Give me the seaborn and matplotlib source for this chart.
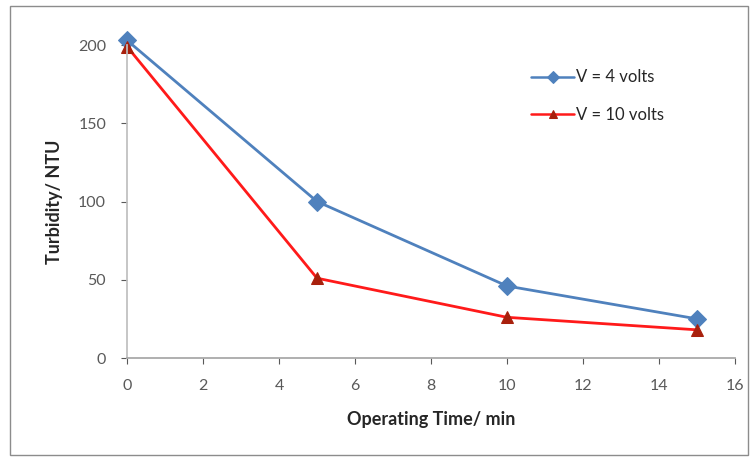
import matplotlib
matplotlib.use("Agg")
import matplotlib.pyplot as plt
import seaborn as sns
import pandas as pd
from matplotlib.patches import Rectangle

time_min = [0, 5, 10, 15]
turb_4v = [203, 100, 46, 25]
turb_10v = [199, 51, 26, 18]
labels = ["V = 4 volts", "V = 10 volts"]
xticks = [0, 2, 4, 6, 8, 10, 12, 14, 16]
yticks = [0, 50, 100, 150, 200]

sns.set_theme(style="white")
plt.rcParams['font.family'] = ['Lato', 'DejaVu Sans']

df = pd.DataFrame({
    "t": time_min * 2,
    "y": turb_4v + turb_10v,
    "s": [labels[0]] * 4 + [labels[1]] * 4,
})

fig = plt.figure(figsize=(7.55, 4.59), dpi=100)
ax = fig.add_axes([127/755, 1 - 358/459, (735 - 127)/755, (358 - 45)/459])

fig.patches.append(Rectangle((10/755, 1 - 455/459), 738/755, 449/459,
                             transform=fig.transFigure, fill=False,
                             edgecolor="#8c8c8c", linewidth=1.0))

sns.lineplot(data=df[df.s == labels[0]], x="t", y="y", ax=ax, color="#4F81BD",
             marker="D", markersize=9, markerfacecolor="#4F81BD",
             markeredgecolor="#4F81BD", linewidth=2, label=labels[0], clip_on=False)
sns.lineplot(data=df[df.s == labels[1]], x="t", y="y", ax=ax, color="#FF1A1A",
             marker="^", markersize=9, markerfacecolor="#A8200C",
             markeredgecolor="#A8200C", linewidth=2, label=labels[1], clip_on=False)

ax.set_xlim(0, 16)
ax.set_ylim(0, 200)
ax.set_xticks(xticks)
ax.set_yticks(yticks)
ax.tick_params(axis="both", labelsize=11.5, colors="#595959", length=4, width=0.8, direction="out")
ax.tick_params(axis="x", bottom=True, pad=11)
ax.tick_params(axis="y", left=True, pad=11)
for side in ["top", "right"]:
    ax.spines[side].set_visible(False)
ax.spines["left"].set_color("#bfbfbf")
ax.spines["bottom"].set_color("#a6a6a6")
ax.set_xlabel("Operating Time/ min", fontsize=13, fontweight="bold", color="#262626", labelpad=13)
ax.set_ylabel("Turbidity/ NTU", fontsize=13, fontweight="bold", color="#262626", labelpad=11)

leg = ax.legend(loc="upper left", bbox_to_anchor=(0.64, 0.97), frameon=False,
                fontsize=12, handlelength=2.6, handletextpad=0.1, labelspacing=1.3)
for t in leg.get_texts():
    t.set_color("#262626")
for h in leg.legend_handles:
    h.set_markersize(6)
    h.set_linewidth(1.8)

fig.savefig("out.png", dpi=100)
